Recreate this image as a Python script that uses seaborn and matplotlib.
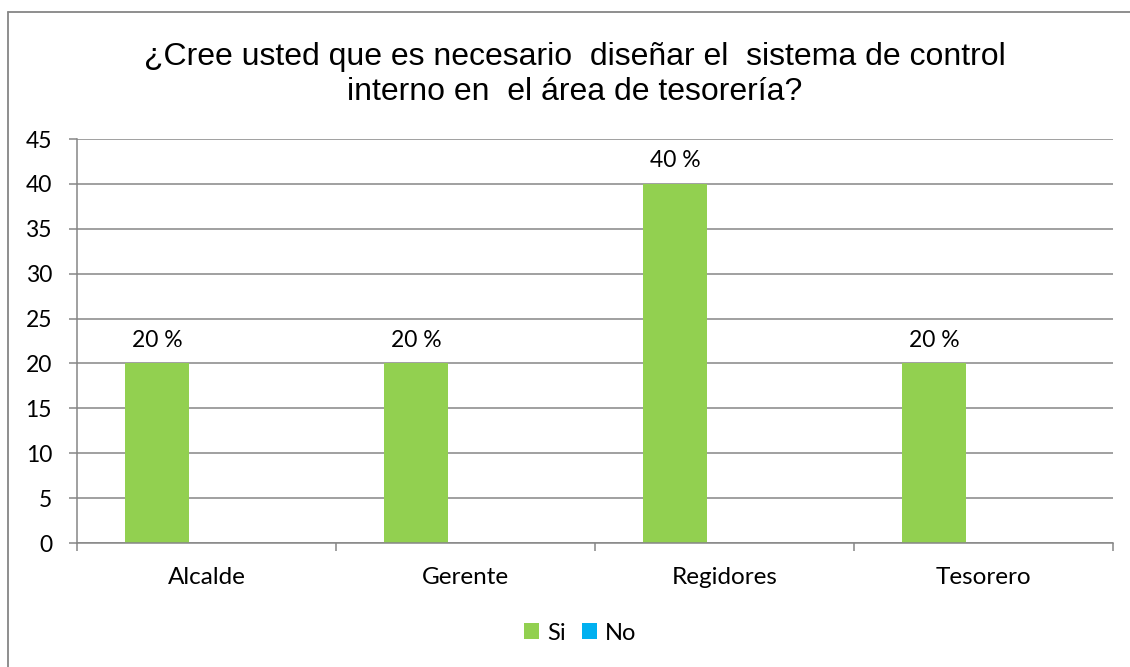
import matplotlib
matplotlib.use("Agg")
import matplotlib.pyplot as plt
from matplotlib.lines import Line2D
import seaborn as sns
import pandas as pd

# Survey answers per respondent group
categories = ["Alcalde", "Gerente", "Regidores", "Tesorero"]
si_values = [20, 20, 40, 20]
no_values = [0, 0, 0, 0]
series = ["Si", "No"]
y_ticks = [0, 5, 10, 15, 20, 25, 30, 35, 40, 45]
title = ("¿Cree usted que es necesario  diseñar el  sistema de control\n"
         "interno en  el área de tesorería?")

GREEN = "#92D050"
BLUE = "#00B0F0"
GREY = "#868686"

df = pd.DataFrame({
    "categoria": categories * 2,
    "serie": ["Si"] * len(categories) + ["No"] * len(categories),
    "valor": si_values + no_values,
})

sns.set_style("white")
plt.rcParams["font.family"] = ["Lato", "DejaVu Sans"]
plt.rcParams["text.color"] = "black"

W, H = 1130, 667
fig = plt.figure(figsize=(W / 100, H / 100), dpi=100)
ax = fig.add_axes([77 / W, 1 - 543 / H, (1113 - 77) / W, (543 - 139) / H])

sns.barplot(data=df, x="categoria", y="valor", hue="serie",
            order=categories, hue_order=series,
            palette=[GREEN, BLUE], saturation=1, width=0.764, gap=0.353,
            linewidth=0, errorbar=None, ax=ax)
ax.get_legend().remove()

ax.set_xlim(-0.5, len(categories) - 0.5)
ax.set_ylim(0, 45)
ax.set_xlabel("")
ax.set_ylabel("")

# Horizontal gridlines behind the bars
ax.set_axisbelow(True)
ax.yaxis.grid(True, color=GREY, linewidth=1.1)
ax.xaxis.grid(False)

for side in ["top", "right"]:
    ax.spines[side].set_visible(False)
for side in ["left", "bottom"]:
    ax.spines[side].set_color(GREY)
    ax.spines[side].set_linewidth(1.1)

ax.set_yticks(y_ticks)
ax.tick_params(axis="y", length=6, width=1.1, color=GREY, pad=12,
               labelsize=16.5, labelcolor="black", direction="out", left=True)

# Tick marks at category boundaries, labels at category centres
ax.set_xticks([i - 0.5 for i in range(len(categories) + 1)])
ax.set_xticklabels([])
ax.set_xticks(range(len(categories)), minor=True)
ax.set_xticklabels(categories, minor=True)
ax.tick_params(axis="x", which="major", length=6, width=1.1, color=GREY,
               direction="out", bottom=True)
ax.tick_params(axis="x", which="minor", length=0, pad=17, labelsize=17.5,
               labelcolor="black")

# Value labels above the "Si" bars
si_container = ax.containers[0]
ax.bar_label(si_container, labels=[f"{v} %" for v in si_values],
             padding=9, fontsize=16.5, color="black")

fig.text(575 / W, 1 - 42 / H, title, ha="center", va="top", color="black",
         fontsize=23, linespacing=1.21, family=["Liberation Sans", "DejaVu Sans"])

handles, labels = ax.get_legend_handles_labels()
fig.legend(handles, labels, loc="center",
           bbox_to_anchor=(580 / W, 1 - 633 / H), ncol=2, frameon=False,
           fontsize=17, handlelength=0.65, handleheight=0.65,
           handletextpad=0.32, columnspacing=0.7)

# Chart frame on the left and top edges
fig.add_artist(Line2D([8 / W, 8 / W], [0, 1 - 12 / H], transform=fig.transFigure,
                      color=GREY, linewidth=1.3))
fig.add_artist(Line2D([8 / W, 1], [1 - 12 / H, 1 - 12 / H], transform=fig.transFigure,
                      color=GREY, linewidth=1.3))

fig.savefig("out.png", dpi=100, facecolor="white")
